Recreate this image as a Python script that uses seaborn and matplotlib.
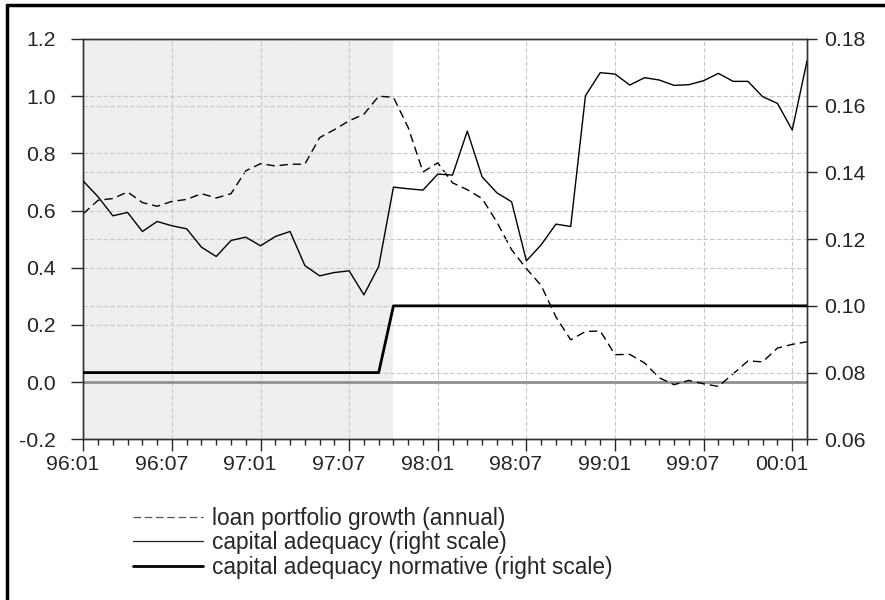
import numpy as np
import pandas as pd
import seaborn as sns
from matplotlib import pyplot as plt
from matplotlib.lines import Line2D
from matplotlib.transforms import ScaledTranslation

# monthly data 96:01 .. 00:02
months = [f'{y:02d}:{m:02d}' for y in (96, 97, 98, 99, 0) for m in range(1, 13)][:50]

loan_growth = [0.589, 0.636, 0.642, 0.665, 0.628, 0.615, 0.632, 0.639, 0.659, 0.644,
               0.659, 0.739, 0.764, 0.756, 0.762, 0.762, 0.855, 0.883, 0.914, 0.937,
               1.000, 0.996, 0.890, 0.735, 0.767, 0.697, 0.673, 0.642, 0.560, 0.463,
               0.397, 0.338, 0.228, 0.148, 0.177, 0.179, 0.096, 0.097, 0.067, 0.015,
               -0.009, 0.006, -0.006, -0.015, 0.029, 0.074, 0.071, 0.119, 0.132, 0.141]

capital_adequacy = [0.1374, 0.1327, 0.1270, 0.1280, 0.1223, 0.1253, 0.1240, 0.1231, 0.1176, 0.1148,
                    0.1196, 0.1206, 0.1180, 0.1208, 0.1223, 0.1121, 0.1090, 0.1100, 0.1105, 0.1033,
                    0.1118, 0.1356, 0.1351, 0.1347, 0.1395, 0.1392, 0.1524, 0.1387, 0.1339, 0.1312,
                    0.1135, 0.1183, 0.1245, 0.1238, 0.1630, 0.1699, 0.1695, 0.1662, 0.1684, 0.1677,
                    0.1661, 0.1663, 0.1675, 0.1697, 0.1673, 0.1673, 0.1627, 0.1607, 0.1527, 0.1734]

normative = [0.08] * 21 + [0.10] * 29

shade_end = 21  # 97:10

df = pd.DataFrame({'t': np.arange(len(months)), 'loan': loan_growth,
                   'car': capital_adequacy, 'norm': normative})

sns.set_style('white')
plt.rcParams['font.family'] = ['Liberation Sans', 'DejaVu Sans']

fig = plt.figure(figsize=(8.85, 6.0), dpi=100)
ax = fig.add_axes([83.3 / 885, 1 - 439.3 / 600, (807 - 83.3) / 885, 400.3 / 600])
ax2 = ax.twinx()

ax.set_xlim(0, len(months) - 1)
ax.set_ylim(-0.2, 1.2)
ax2.set_ylim(0.06, 0.18)

ax.axvspan(0, shade_end, color='#efefef', lw=0, zorder=0)

grid_kw = dict(color='#c8c8c8', lw=0.8, ls=(0, (4, 2)), zorder=1)
for v in np.arange(-0.2, 1.21, 0.2):
    ax.axhline(v, **grid_kw)
for v in np.arange(0.06, 0.181, 0.02):
    ax2.axhline(v, **grid_kw)
for t in range(0, len(months), 6):
    ax.axvline(t, **grid_kw)
ax.axhline(0, color='#909090', lw=2, zorder=2)

sns.lineplot(data=df, x='t', y='loan', ax=ax, color='black', lw=1,
             dashes=False, zorder=3)
ax.lines[-1].set_linestyle((0, (6, 3.5)))
sns.lineplot(data=df, x='t', y='car', ax=ax2, color='black', lw=1, zorder=3)
sns.lineplot(data=df, x='t', y='norm', ax=ax2, color='black', lw=2, zorder=3)

ax.set_xticks(range(0, len(months), 6))
ax.set_xticklabels(months[::6])
ax.set_xticks(range(len(months)), minor=True)
ax.set_yticks(np.arange(-0.2, 1.21, 0.2))
ax.set_yticklabels([f'{v:.1f}' for v in np.arange(-0.2, 1.21, 0.2)])
ax2.set_yticks(np.arange(0.06, 0.181, 0.02))
ax2.set_yticklabels([f'{v:.2f}' for v in np.arange(0.06, 0.181, 0.02)])
ax.set_xlabel('')
ax.set_ylabel('')
ax2.set_ylabel('')

ax.tick_params(axis='x', which='major', direction='out', length=8.5, width=1,
               labelsize=15.3, pad=3, bottom=True)
ax.tick_params(axis='x', which='minor', direction='out', length=4.3, width=1, bottom=True)
ax.tick_params(axis='y', direction='out', length=8.4, width=1, labelsize=15.3, pad=11.5, left=True)
ax2.tick_params(axis='y', direction='out', length=7, width=1, labelsize=15.3, pad=5.5, right=True)

# x labels sit a little left of their ticks in the original
shift = ScaledTranslation(-10.5 / 100, 0, fig.dpi_scale_trans)
for lab in ax.get_xticklabels():
    lab.set_transform(lab.get_transform() + shift)

for a in (ax, ax2):
    for s in a.spines.values():
        s.set_color('#333333')
        s.set_linewidth(1)

handles = [Line2D([], [], color='#555555', lw=0.9, ls=(0, (6, 3))),
           Line2D([], [], color='#222222', lw=0.9),
           Line2D([], [], color='black', lw=2)]
labels = ['loan portfolio growth (annual)', 'capital adequacy (right scale)',
          'capital adequacy normative (right scale)']
fig.legend(handles, labels, loc='upper left', bbox_to_anchor=(133 / 885, 1 - 506.5 / 600),
           frameon=False, fontsize=16.3, borderpad=0, borderaxespad=0,
           handlelength=3.1, handletextpad=0.4, labelspacing=0.07)

# figure frame (top and left edges)
fig.add_artist(Line2D([7 / 885, 7 / 885], [0, 1 - 5 / 600], color='black', lw=2.5))
fig.add_artist(Line2D([7 / 885, 1], [1 - 5 / 600, 1 - 5 / 600], color='black', lw=2.5))

fig.savefig('out.png', dpi=100)
